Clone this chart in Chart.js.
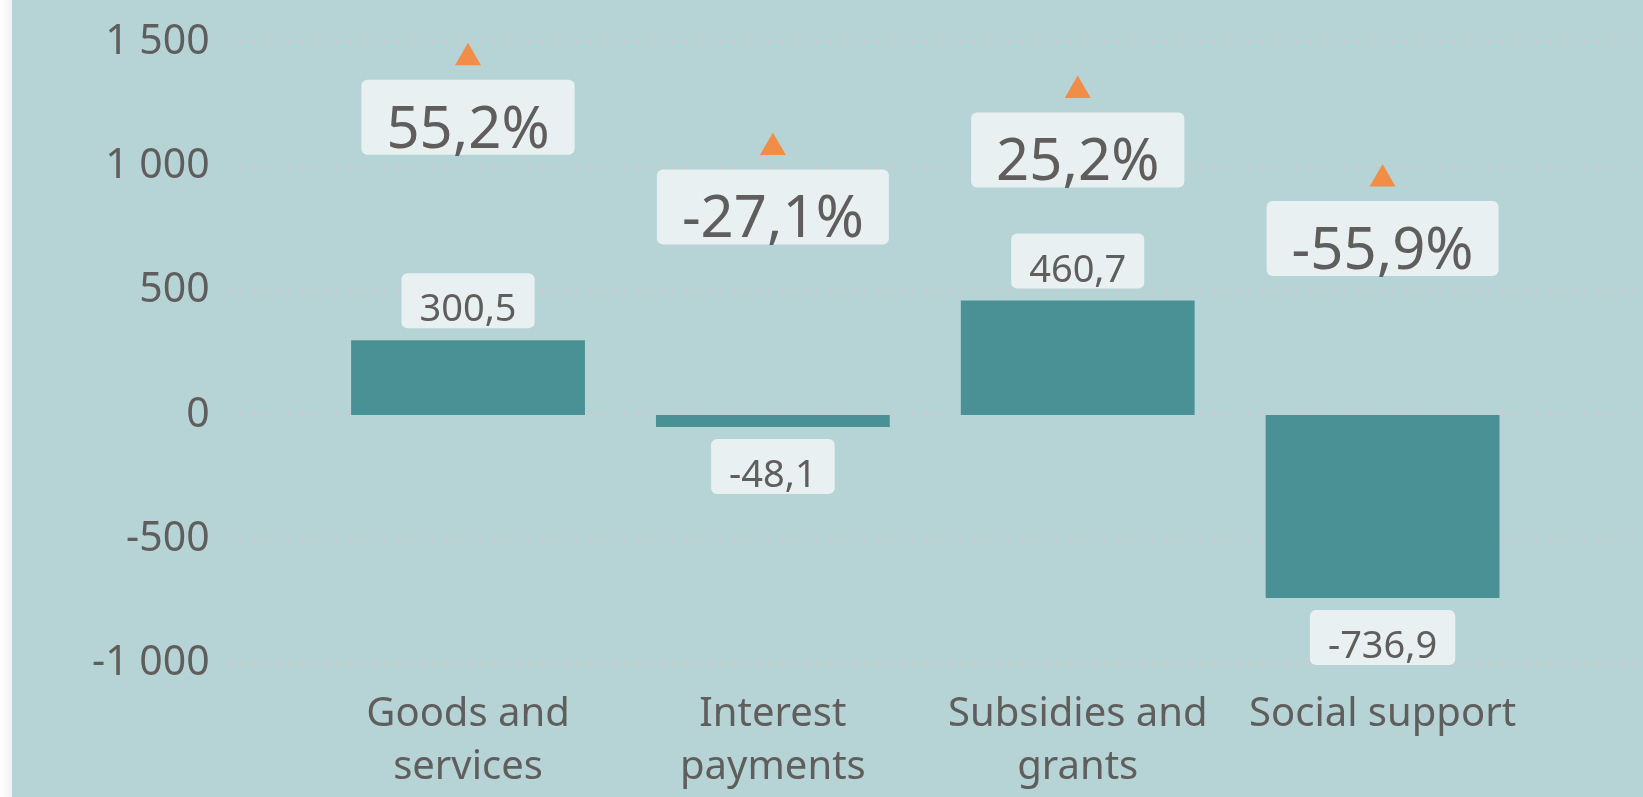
<!DOCTYPE html>
<html><head><meta charset="utf-8">
<script src="https://cdn.jsdelivr.net/npm/chart.js@4/dist/chart.umd.min.js"></script>
<style>
html,body{margin:0;padding:0;}
body{width:1643px;height:797px;overflow:hidden;background:linear-gradient(to right,#ffffff 0,#f2f2f2 12px,#b6d4d6 12px);}
#wrap{position:relative;width:1643px;height:797px;}
</style></head><body>
<div id="wrap"><canvas id="c"></canvas></div>
<script>
const categories = [["Goods and","services"],["Interest","payments"],["Subsidies and","grants"],["Social support"]];
const changeValues = [300.5, -48.1, 460.7, -736.9];
const changePercent = [55.2, -27.1, 25.2, -55.9];
const yTickValues = [-1000, -500, 0, 500, 1000, 1500];

const TEXT = '#605e5c';
const FONT = '"Noto Sans", "Open Sans", sans-serif';

function fmtThousands(v){
  const s = Math.abs(v).toString().replace(/\B(?=(\d{3})+(?!\d))/g,' ');
  return (v < 0 ? '-' : '') + s;
}
function fmtDec(v){ return v.toFixed(1).replace('.', ','); }

function drawBox(ctx, cx, top, text, fontSize, padX, h, baseOff){
  ctx.font = fontSize + 'px ' + FONT;
  const w = ctx.measureText(text).width + padX*2;
  ctx.fillStyle = '#e8f0f1';
  ctx.beginPath();
  ctx.roundRect(cx - w/2, top, w, h, 6);
  ctx.fill();
  ctx.fillStyle = TEXT;
  ctx.textAlign = 'center';
  ctx.textBaseline = 'alphabetic';
  ctx.fillText(text, cx, top + h - baseOff);
}

const dottedGrid = {
  id: 'dottedGrid',
  beforeDatasetsDraw(chart){
    const y = chart.scales.y, ctx = chart.ctx;
    ctx.save();
    ctx.strokeStyle = '#d6c6c7';
    ctx.lineWidth = 2.5;
    ctx.lineCap = 'butt';
    ctx.setLineDash([2.5, 9.5]);
    y.ticks.forEach(t => {
      const py = Math.round(y.getPixelForValue(t.value));
      ctx.beginPath();
      ctx.moveTo(y.right - 87, py);
      ctx.lineTo(chart.width, py);
      ctx.stroke();
    });
    ctx.restore();
  }
};

const boxLabels = {
  id: 'boxLabels',
  afterDatasetsDraw(chart){
    const ctx = chart.ctx;
    ctx.save();
    const bars = chart.getDatasetMeta(0).data;
    bars.forEach((el, i) => {
      const v = changeValues[i];
      const h = 55;
      const top = v >= 0 ? el.y - 12 - h : el.y + 12;
      drawBox(ctx, el.x, top, fmtDec(v), 38, 18, h, 7);
    });
    const pts = chart.getDatasetMeta(1).data;
    pts.forEach((el, i) => {
      const v = changePercent[i];
      drawBox(ctx, el.x, el.y + 22, fmtDec(v) + '%', 58, 25, 75, 7);
    });
    ctx.restore();
  }
};

new Chart(document.getElementById('c'), {
  type: 'bar',
  data: {
    labels: categories,
    datasets: [
      {
        type: 'bar',
        data: changeValues,
        backgroundColor: '#4a9195',
        borderWidth: 0,
        barPercentage: 0.767,
        categoryPercentage: 1.0,
        yAxisID: 'y',
        order: 2
      },
      {
        type: 'line',
        data: changePercent,
        yAxisID: 'y2',
        showLine: false,
        pointStyle: 'triangle',
        pointRadius: 15,
        pointHoverRadius: 15,
        pointBackgroundColor: '#f28d47',
        pointBorderColor: '#f28d47',
        pointBorderWidth: 0,
        clip: false,
        order: 1
      }
    ]
  },
  options: {
    responsive: true,
    maintainAspectRatio: false,
    animation: false,
    events: [],
    layout: { padding: { top: 42.3, right: 108, left: 0, bottom: 0 } },
    plugins: { legend: { display: false }, tooltip: { enabled: false }, title: { display: false } },
    scales: {
      x: {
        grid: { display: false, drawTicks: false },
        border: { display: false },
        ticks: {
          color: TEXT,
          font: { family: FONT, size: 40, lineHeight: 1.335 },
          padding: 24,
          maxRotation: 0,
          autoSkip: false
        },
        afterFit(scale){ scale.height = 133.5; scale.paddingLeft = 0; scale.paddingRight = 0; }
      },
      y: {
        min: -1000,
        max: 1500,
        grid: { display: false, drawTicks: false },
        border: { display: false },
        afterBuildTicks(scale){ scale.ticks = yTickValues.map(v => ({ value: v })); },
        ticks: {
          color: TEXT,
          font: { family: FONT, size: 41 },
          padding: 106,
          callback: v => fmtThousands(v)
        },
        afterFit(scale){ scale.width = 315.6; scale.paddingTop = 0; scale.paddingBottom = 0; }
      },
      y2: {
        display: false,
        min: -500,
        max: 69.3
      }
    }
  },
  plugins: [dottedGrid, boxLabels]
});
</script>
</body></html>
